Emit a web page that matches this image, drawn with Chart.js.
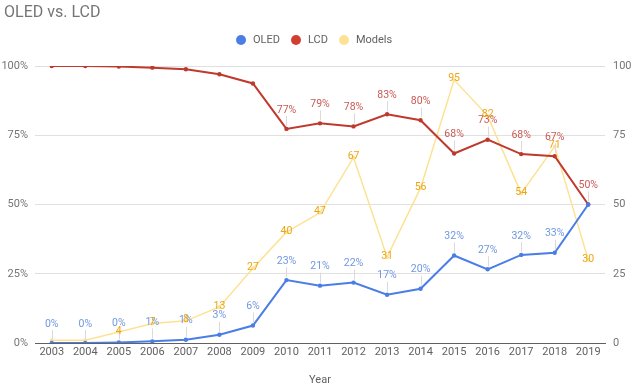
<!DOCTYPE html>
<html lang="en">
<head>
    <meta charset="UTF-8">
    <title>OLED vs. LCD</title>
    <script src="https://cdn.jsdelivr.net/npm/chart.js"></script>
    <style>
        body { margin: 0; background: #fff; font-family: Roboto, Arial, sans-serif; }
        #wrap { position: relative; width: 640px; height: 387px; }
        #title { position: absolute; left: 4px; top: 2px; font-size: 16px; color: #757575; }
        #legend { position: absolute; top: 33px; left: 236px; font-size: 11px; color: #616161; display: flex; }
        .item { display: flex; align-items: center; margin-right: 11px; }
        .dot { width: 10px; height: 10px; border-radius: 50%; margin-right: 7px; }
    </style>
</head>
<body>
<div id="wrap">
    <canvas id="chart"></canvas>
    <div id="title">OLED vs. LCD</div>
    <div id="legend">
        <div class="item"><div class="dot" style="background:#4a7ee6"></div>OLED</div>
        <div class="item"><div class="dot" style="background:#d23f31"></div>LCD</div>
        <div class="item"><div class="dot" style="background:#fde293"></div>Models</div>
    </div>
</div>

<script>
    // chart data
    var years = ["2003", "2004", "2005", "2006", "2007", "2008", "2009", "2010", "2011",
                 "2012", "2013", "2014", "2015", "2016", "2017", "2018", "2019"];
    var oledShare = [0, 0, 0.2, 0.6, 1.2, 3, 6.3, 22.7, 20.7, 21.8, 17.4, 19.6, 31.6, 26.6, 31.8, 32.6, 50];
    var lcdShare = [100, 100, 99.8, 99.4, 98.8, 97, 93.7, 77.3, 79.3, 78.2, 82.6, 80.4, 68.4, 73.4, 68.2, 67.4, 50];
    var models = [1, 1, 4, 7, 8, 13, 27, 40, 47, 67, 31, 56, 95, 82, 54, 71, 30];
    var leftTicks = [0, 25, 50, 75, 100];

    // which data labels google showed
    var oledShown = years.map(function(y, i) { return i < 16; });
    var lcdShown = years.map(function(y, i) { return i >= 7; });
    var modelsShown = years.map(function(y, i) { return i >= 2; });

    var labelPlugin = {
        id: 'pointLabels',
        afterDatasetsDraw: function(chart) {
            var ctx = chart.ctx;
            var cfg = [
                { idx: 0, shown: oledShown, color: '#6f97e3', fmt: function(v) { return Math.round(v) + '%'; }, above: true },
                { idx: 1, shown: lcdShown, color: '#c95a55', fmt: function(v) { return Math.round(v) + '%'; }, above: true },
                { idx: 2, shown: modelsShown, color: '#eda514', fmt: function(v) { return String(v); }, above: false }
            ];
            ctx.save();
            // stems first
            ctx.strokeStyle = '#dadada';
            ctx.lineWidth = 1;
            cfg.forEach(function(c) {
                if (!c.above) return;
                chart.getDatasetMeta(c.idx).data.forEach(function(pt, i) {
                    if (!c.shown[i]) return;
                    ctx.beginPath();
                    ctx.moveTo(Math.round(pt.x) + 0.5, pt.y - 3);
                    ctx.lineTo(Math.round(pt.x) + 0.5, pt.y - 13);
                    ctx.stroke();
                });
            });
            ctx.font = '10.5px Roboto, Arial, sans-serif';
            ctx.textAlign = 'center';
            ctx.textBaseline = 'middle';
            cfg.forEach(function(c) {
                var data = chart.data.datasets[c.idx].data;
                ctx.fillStyle = c.color;
                chart.getDatasetMeta(c.idx).data.forEach(function(pt, i) {
                    if (!c.shown[i]) return;
                    var y = c.above ? pt.y - 19 : pt.y - 1;
                    ctx.fillText(c.fmt(data[i]), pt.x, y);
                });
            });
            ctx.restore();
        }
    };

    var ctx = document.getElementById('chart').getContext('2d');
    var chart = new Chart(ctx, {
        type: 'line',
        data: {
            labels: years,
            datasets: [
                {
                    label: 'OLED', data: oledShare, yAxisID: 'y',
                    borderColor: '#4a7ee6', backgroundColor: '#4a7ee6',
                    borderWidth: 2, pointRadius: 1.2, tension: 0
                },
                {
                    label: 'LCD', data: lcdShare, yAxisID: 'y',
                    borderColor: '#c0392d', backgroundColor: '#c0392d',
                    borderWidth: 2, pointRadius: 1.2, tension: 0
                },
                {
                    label: 'Models', data: models, yAxisID: 'y1',
                    borderColor: '#fde293', backgroundColor: '#fde293',
                    borderWidth: 1.5, pointRadius: 1.2, tension: 0
                }
            ]
        },
        options: {
            responsive: true,
            maintainAspectRatio: false,
            animation: false,
            layout: { padding: { top: 66, left: 0, right: 0, bottom: 0 } },
            plugins: {
                legend: { display: false },
                title: { display: false },
                tooltip: { enabled: false }
            },
            scales: {
                x: {
                    offset: true,
                    grid: { display: false, drawTicks: false },
                    border: { display: true, color: '#616161', width: 1 },
                    ticks: { color: '#616161', font: { family: 'Roboto', size: 11 }, padding: 3, maxRotation: 0, autoSkip: false },
                    title: { display: true, text: 'Year', color: '#616161', font: { family: 'Roboto', size: 11 }, padding: { top: 0, bottom: 0 } },
                    afterFit: function(scale) { scale.height = 44; }
                },
                y: {
                    position: 'left',
                    min: 0, max: 100,
                    afterBuildTicks: function(scale) { scale.ticks = leftTicks.map(function(v) { return { value: v }; }); },
                    grid: { color: '#e0e0e0', drawTicks: false },
                    border: { display: false },
                    ticks: { color: '#757575', font: { family: 'Roboto', size: 11 }, padding: 7, callback: function(v) { return v + '%'; } },
                    afterFit: function(scale) { scale.width = 35; }
                },
                y1: {
                    position: 'right',
                    min: 0, max: 100,
                    afterBuildTicks: function(scale) { scale.ticks = leftTicks.map(function(v) { return { value: v }; }); },
                    grid: { display: false, drawTicks: false },
                    border: { display: false },
                    ticks: { color: '#757575', font: { family: 'Roboto', size: 11 }, padding: 8 },
                    afterFit: function(scale) { scale.width = 35; }
                }
            }
        },
        plugins: [labelPlugin]
    });
</script>
</body>
</html>
